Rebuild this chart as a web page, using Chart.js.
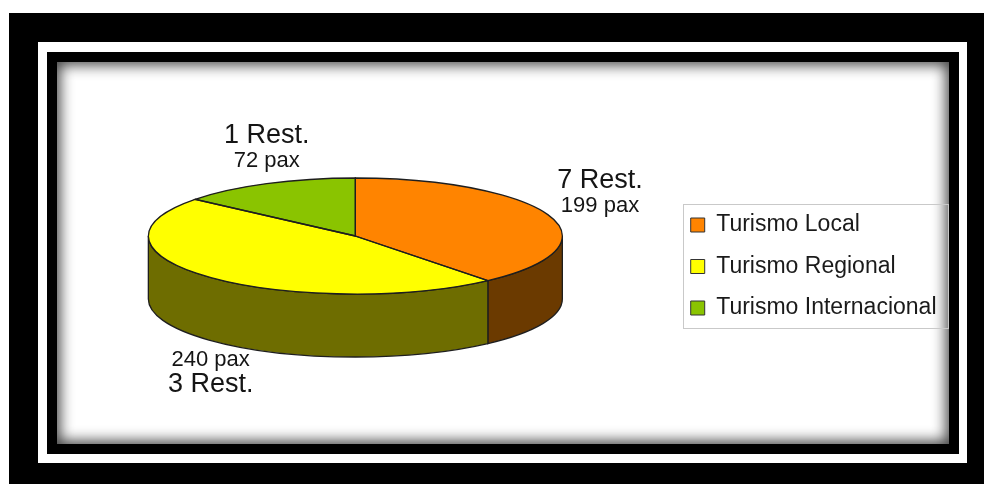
<!DOCTYPE html>
<html lang="es">
<head>
    <meta charset="UTF-8">
    <script src="https://cdn.jsdelivr.net/npm/chart.js"></script>
    <title>Turismo - Restaurantes</title>
    <style>
        body { margin: 0; background: #fff; width: 984px; height: 484px; overflow: hidden; position: relative; }
        .frame { position: absolute; }
        #outer { left: 9px; top: 13px; width: 975px; height: 471px; background: #000; }
        #band { left: 38px; top: 42px; width: 929px; height: 421px; background: #fff; }
        #inner { left: 47px; top: 52px; width: 912px; height: 402px; background: #000; }
        #panel { left: 57px; top: 62px; width: 892px; height: 382px; background: #fff;
                 box-shadow: inset 0 0 14px 3px rgba(0,0,0,0.75); }
        #chartBox { position: absolute; left: 0; top: 0; width: 984px; height: 484px; }
    </style>
</head>
<body>
    <div class="frame" id="outer"></div>
    <div class="frame" id="band"></div>
    <div class="frame" id="inner"></div>
    <div class="frame" id="panel"></div>
    <div id="chartBox">
        <canvas id="pieChart" width="984" height="484"></canvas>
    </div>
    <script>
        // datos del grafico
        const categories = ['Turismo Local', 'Turismo Regional', 'Turismo Internacional'];
        const pax = [199, 240, 72];
        const restaurants = [7, 3, 1];

        const topColors = ['#FF8400', '#FFFF00', '#8AC400'];
        const sideColors = ['#6B3A00', '#6E6D00', '#4A6A00'];

        const tilt = 58 / 207;   // aplastamiento del disco
        const depth = 63;        // grosor del disco
        const lineColor = '#1e1e1e';

        // donde va cada etiqueta respecto al centro del sector (en el borde superior)
        const labelPlace = [
            { dx: 50, dy: -28, paxFirst: false },
            { dx: 1, dy: 89, paxFirst: true },
            { dx: 0, dy: -41, paxFirst: false }
        ];

        const pie3d = {
            id: 'pie3d',
            beforeDatasetsDraw(chart) {
                const ctx = chart.ctx;
                const arcs = chart.getDatasetMeta(0).data;
                ctx.save();
                ctx.strokeStyle = lineColor;
                ctx.lineWidth = 1.3;
                arcs.forEach((el, i) => {
                    const s = Math.max(el.startAngle, 0);
                    const e = Math.min(el.endAngle, Math.PI);
                    if (e <= s) return;
                    const rx = el.outerRadius, ry = rx * tilt;
                    ctx.beginPath();
                    ctx.ellipse(el.x, el.y, rx, ry, 0, s, e);
                    ctx.ellipse(el.x, el.y + depth, rx, ry, 0, e, s, true);
                    ctx.closePath();
                    ctx.fillStyle = sideColors[i];
                    ctx.fill();
                    ctx.stroke();
                });
                ctx.restore();
                // la cara de arriba la dibuja Chart.js, aplastada
                const c = arcs[0];
                ctx.save();
                ctx.translate(0, c.y);
                ctx.scale(1, tilt);
                ctx.translate(0, -c.y);
            },
            afterDatasetsDraw(chart) {
                const ctx = chart.ctx;
                ctx.restore();
                const arcs = chart.getDatasetMeta(0).data;
                ctx.save();
                ctx.strokeStyle = lineColor;
                ctx.lineWidth = 1.3;
                arcs.forEach(el => {
                    const rx = el.outerRadius, ry = rx * tilt;
                    ctx.beginPath();
                    ctx.moveTo(el.x, el.y);
                    ctx.ellipse(el.x, el.y, rx, ry, 0, el.startAngle, el.endAngle);
                    ctx.closePath();
                    ctx.stroke();
                });

                // etiquetas
                ctx.fillStyle = '#151515';
                ctx.textBaseline = 'alphabetic';
                arcs.forEach((el, i) => {
                    const mid = (el.startAngle + el.endAngle) / 2;
                    const px = el.x + el.outerRadius * Math.cos(mid);
                    const py = el.y + el.outerRadius * tilt * Math.sin(mid);
                    const pl = labelPlace[i];
                    const cx = px + pl.dx;
                    const restY = pl.paxFirst ? py + pl.dy + 26 : py + pl.dy;
                    const paxY = pl.paxFirst ? py + pl.dy : py + pl.dy + 24;

                    ctx.font = '27px "Liberation Sans", Arial, sans-serif';
                    ctx.textAlign = 'center';
                    ctx.fillText(restaurants[i] + ' Rest.', cx, restY);

                    ctx.font = '22px "Liberation Sans", Arial, sans-serif';
                    ctx.fillText(pax[i] + ' pax', cx, paxY);
                });

                // marco de la leyenda
                const lg = chart.legend;
                const p = lg.options.labels.padding;
                const fs = lg.options.labels.font.size;
                const firstTop = lg.bottom - 3 * (fs + p);
                const top = firstTop - 9.5;
                const bottom = firstTop + 2 * (fs + p) + fs + 8.5;
                const left = lg.left + p - 8;
                ctx.strokeStyle = '#c9c9c9';
                ctx.lineWidth = 1;
                ctx.strokeRect(Math.round(left) + 0.5, Math.round(top) + 0.5,
                    Math.round(lg.right + 1 - left), Math.round(bottom - top));
                ctx.restore();
            }
        };

        const data = {
            labels: categories,
            datasets: [{
                data: pax,
                backgroundColor: topColors,
                borderWidth: 0,
                clip: false
            }]
        };

        const config = {
            type: 'pie',
            data: data,
            options: {
                responsive: false,
                animation: false,
                events: [],
                radius: 207,
                layout: {
                    padding: { left: 38.5, right: 37.5, top: 134, bottom: 146 }
                },
                plugins: {
                    tooltip: { enabled: false },
                    legend: {
                        position: 'right',
                        align: 'end',
                        labels: {
                            boxWidth: 14,
                            boxHeight: 14,
                            padding: 18.5,
                            color: '#1a1a1a',
                            font: { family: '"Liberation Sans", Arial, sans-serif', size: 23 },
                            generateLabels(chart) {
                                const items = Chart.overrides.pie.plugins.legend.labels.generateLabels(chart);
                                return items.map(it => Object.assign(it, { lineWidth: 1, strokeStyle: '#333' }));
                            }
                        }
                    }
                }
            },
            plugins: [pie3d]
        };

        const myChart = new Chart(document.getElementById('pieChart'), config);
    </script>
</body>
</html>
